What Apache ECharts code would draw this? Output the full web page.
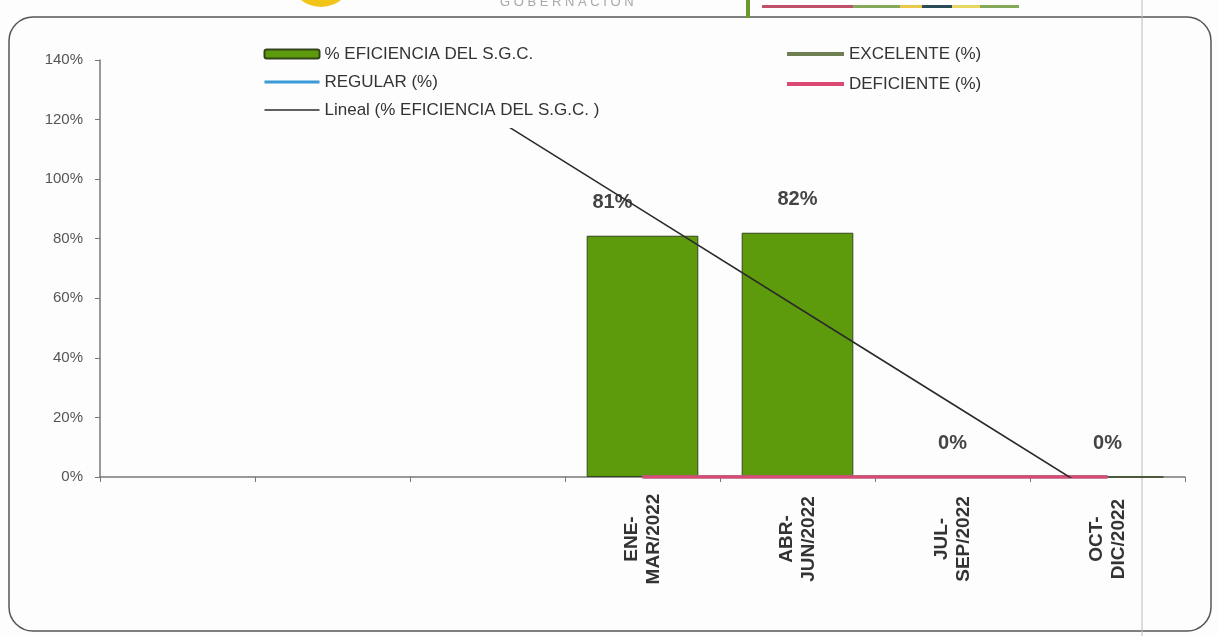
<!DOCTYPE html>
<html>
<head>
<meta charset="utf-8">
<script src="https://cdn.jsdelivr.net/npm/echarts@6/dist/echarts.min.js"></script>
<style>
html,body{margin:0;padding:0;background:#fdfdfd;}
#c{width:1218px;height:636px;}
</style>
</head>
<body>
<div id="c"></div>
<script>
// ---- data ----
const categories = ['', '', '', 'ENE-\nMAR/2022', 'ABR-\nJUN/2022', 'JUL-\nSEP/2022', 'OCT-\nDIC/2022'];
const eficiencia = [null, null, null, 0.81, 0.82, 0, 0];
const excelente = [null, null, null, 0, 0, 0, 0];
const regular = [null, null, null, 0, 0, 0, 0];
const deficiente = [null, null, null, 0, 0, 0, 0];
const yTickLabels = ['0%', '20%', '40%', '60%', '80%', '100%', '120%', '140%'];
const seriesNames = ['% EFICIENCIA DEL S.G.C.', 'EXCELENTE (%)', 'REGULAR (%)', 'DEFICIENTE (%)', 'Lineal (% EFICIENCIA DEL S.G.C. )'];

// linear trend (least squares over the available points)
const pts = eficiencia.map((v, i) => [i, v]).filter(p => p[1] != null);
const n = pts.length;
const sx = pts.reduce((a, p) => a + p[0], 0), sy = pts.reduce((a, p) => a + p[1], 0);
const sxy = pts.reduce((a, p) => a + p[0] * p[1], 0), sxx = pts.reduce((a, p) => a + p[0] * p[0], 0);
const slope = (n * sxy - sx * sy) / (n * sxx - sx * sx);
const intercept = (sy - slope * sx) / n;
const trend = categories.map((_, i) => intercept + slope * i);

const chart = echarts.init(document.getElementById('c'), null, {renderer: 'canvas'});
const FONT = '"Liberation Sans", Arial, sans-serif';

const C_EXC = '#6e7f52', C_REG = '#3b9ad8', C_DEF = '#da4a72', C_TR = '#2b2b2b';
const lineLegend = (name, color, width) => ({name: name, itemStyle: {opacity: 0}, lineStyle: {color: color, width: width}});

const option = {
  backgroundColor: '#fdfdfd',
  animation: false,
  textStyle: {fontFamily: FONT},
  graphic: [
    {type: 'rect', z: 0, shape: {x: 9, y: 17, width: 1202, height: 614, r: 24}, style: {fill: 'none', stroke: '#555', lineWidth: 1.5}},
    {type: 'line', z: 0, shape: {x1: 1142, y1: 0, x2: 1142, y2: 636}, style: {stroke: '#bbb', lineWidth: 1}},
    {type: 'circle', z: 0, shape: {cx: 321, cy: -25, r: 32}, style: {fill: '#f0c419'}},
    {type: 'text', z: 0, x: 500, y: 9, style: {text: 'G O B E R N A C I Ó N', fill: '#a8a8a8', font: '13px ' + FONT, textVerticalAlign: 'bottom'}},
    {type: 'rect', z: 0, shape: {x: 746, y: 0, width: 4, height: 18}, style: {fill: '#6a9a2a'}},
    {type: 'rect', z: 0, shape: {x: 762, y: 5, width: 91, height: 3}, style: {fill: '#c0506a'}},
    {type: 'rect', z: 0, shape: {x: 853, y: 5, width: 47, height: 3}, style: {fill: '#86a85a'}},
    {type: 'rect', z: 0, shape: {x: 900, y: 5, width: 22, height: 3}, style: {fill: '#e8c848'}},
    {type: 'rect', z: 0, shape: {x: 922, y: 5, width: 30, height: 3}, style: {fill: '#2a4a5a'}},
    {type: 'rect', z: 0, shape: {x: 952, y: 5, width: 28, height: 3}, style: {fill: '#e8d860'}},
    {type: 'rect', z: 0, shape: {x: 980, y: 5, width: 39, height: 3}, style: {fill: '#86a85a'}}
  ],
  grid: {left: 100, right: 33, top: 60, bottom: 159, containLabel: false, outerBoundsMode: 'none'},
  legend: [
    {
      orient: 'vertical', left: 258, top: 40, padding: [5, 8, 9, 5], z: 10,
      backgroundColor: '#fdfdfd',
      itemWidth: 55, itemHeight: 9, itemGap: 10,
      textStyle: {fontSize: 17, lineHeight: 18, color: '#333', fontFamily: FONT},
      data: [
        {name: seriesNames[0]},
        lineLegend(seriesNames[2], C_REG, 3),
        lineLegend(seriesNames[4], C_TR, 1.6)
      ]
    },
    {
      orient: 'vertical', left: 780, top: 40, padding: [5, 5, 5, 5], z: 10,
      itemWidth: 57, itemHeight: 9, itemGap: 12,
      textStyle: {fontSize: 17, lineHeight: 18, color: '#333', fontFamily: FONT},
      data: [
        lineLegend(seriesNames[1], C_EXC, 4),
        lineLegend(seriesNames[3], C_DEF, 4)
      ]
    }
  ],
  xAxis: {
    type: 'category',
    data: categories,
    boundaryGap: true,
    axisLine: {lineStyle: {color: '#777', width: 1.5}},
    axisTick: {show: true, length: 5, alignWithLabel: false, interval: 0, lineStyle: {color: '#777'}},
    axisLabel: {
      interval: 0, rotate: 90, align: 'center', verticalAlign: 'middle', margin: 62,
      fontSize: 19, fontWeight: 'bold', lineHeight: 22, color: '#333', fontFamily: FONT, hideOverlap: false
    },
    splitLine: {show: false}
  },
  yAxis: {
    type: 'value', min: 0, max: 1.4, interval: 0.2,
    axisLine: {show: true, lineStyle: {color: '#777', width: 1.5}},
    axisTick: {show: true, length: 5, lineStyle: {color: '#777'}},
    axisLabel: {formatter: v => yTickLabels[Math.round(v / 0.2)], fontSize: 15, color: '#555', margin: 17, fontFamily: FONT},
    splitLine: {show: false}
  },
  series: [
    {
      name: seriesNames[0], type: 'bar', z: 2,
      data: eficiencia.map((v, i) => (v != null && i === 3) ? {value: v, label: {offset: [-30, 0]}} : v),
      barWidth: '72%',
      itemStyle: {color: '#5d9b0c', borderColor: '#34451c', borderWidth: 1},
      label: {
        show: true, position: 'top', distance: 23,
        formatter: p => Math.round(p.value * 100) + '%',
        fontSize: 20, fontWeight: 'bold', color: '#444', fontFamily: FONT
      }
    },
    {
      name: seriesNames[1], type: 'line', z: 3, data: excelente, symbol: 'none',
      itemStyle: {color: C_EXC}, lineStyle: {color: C_EXC, width: 3}
    },
    {
      name: seriesNames[2], type: 'line', z: 3, data: regular, symbol: 'none',
      itemStyle: {color: C_REG}, lineStyle: {color: C_REG, width: 3}
    },
    {
      name: seriesNames[3], type: 'line', z: 3, data: deficiente, symbol: 'none',
      itemStyle: {color: C_DEF}, lineStyle: {color: C_DEF, width: 3.5}
    },
    {
      name: seriesNames[4], type: 'line', z: 3, data: trend, symbol: 'none', clip: true, silent: true,
      itemStyle: {color: C_TR}, lineStyle: {color: C_TR, width: 1.6}
    }
  ]
};
chart.setOption(option);
</script>
</body>
</html>
